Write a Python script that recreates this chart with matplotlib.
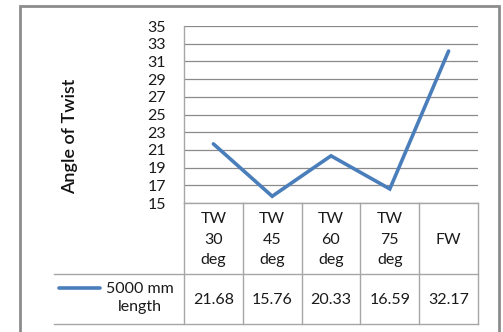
import matplotlib
matplotlib.use("Agg")
import matplotlib.pyplot as plt
from matplotlib.lines import Line2D

categories = ["TW\n30\ndeg", "TW\n45\ndeg", "TW\n60\ndeg", "TW\n75\ndeg", "FW"]
values = [21.68, 15.76, 20.33, 16.59, 32.17]
series_name = "5000 mm\nlength"
y_ticks = list(range(15, 36, 2))
y_label = "Angle of Twist"

W, H = 503, 332
fig = plt.figure(figsize=(W / 100, H / 100), dpi=100)
plt.rcParams['font.family'] = ['Lato', 'DejaVu Sans']

# background axes in pixel coordinates
bg = fig.add_axes([0, 0, 1, 1])
bg.set_xlim(0, W)
bg.set_ylim(H, 0)
bg.axis('off')

grey = '#a6a6a6'
frame = '#8c8c8c'
txt = '#1a1a1a'
fs = 11.5
# outer frame
bg.plot([20, 20, 499, 499], [340, 6, 6, 340], color=frame, lw=2, solid_joinstyle='miter')

# plot area
L, R, T, B = 184, 478, 26, 203
ax = fig.add_axes([L / W, 1 - B / H, (R - L) / W, (B - T) / H])
n = len(categories)
ax.plot(range(n), values, color='#4a7ebb', lw=2.6, solid_capstyle='round', solid_joinstyle='miter', zorder=3)
ax.set_xlim(-0.5, n - 0.5)
ax.set_ylim(15, 35)
ax.set_yticks(y_ticks)
ax.set_yticklabels([str(t) for t in y_ticks], fontsize=fs, color=txt)
ax.set_xticks([])
ax.grid(axis='y', color='#8a8a8a', lw=0.9)
ax.tick_params(axis='y', length=0, pad=13)
for s in ['top', 'right', 'bottom']:
    ax.spines[s].set_visible(False)
ax.spines['left'].set_color(grey)
ax.spines['left'].set_linewidth(1)
ax.patch.set_alpha(0)
ax.patch.set_alpha(0)

# axis title placed in pixel coordinates
bg.text(70, 136, y_label, rotation=90, ha='center', va='center', fontsize=13,
        fontweight='semibold', color='#111111')

# table
col_edges = [L + (R - L) * i / n for i in range(n + 1)]
y_hdr_top, y_mid, y_bot = 203, 274, 324
tab_left = 54
bg.plot([L, R], [y_hdr_top, y_hdr_top], color=grey, lw=1)
bg.plot([tab_left, R], [y_mid, y_mid], color=grey, lw=1)
bg.plot([tab_left, R], [y_bot, y_bot], color=grey, lw=1)
for x in col_edges:
    bg.plot([x, x], [y_hdr_top, y_bot], color=grey, lw=1)

for i, (c, v) in enumerate(zip(categories, values)):
    cx = (col_edges[i] + col_edges[i + 1]) / 2
    bg.text(cx, (y_hdr_top + y_mid) / 2 + 1, c, ha='center', va='center', fontsize=fs,
            linespacing=1.55, color=txt)
    bg.text(cx, (y_mid + y_bot) / 2 + 1, f"{v:.2f}", ha='center', va='center', fontsize=fs,
            color=txt)

# legend key
bg.add_line(Line2D([59, 100], [288, 288], color='#4a7ebb', lw=2.6, solid_capstyle='round'))
bg.text(140, 298, series_name, ha='center', va='center', fontsize=fs,
        linespacing=1.4, multialignment='center', color=txt)

fig.savefig("out.png", dpi=100)
